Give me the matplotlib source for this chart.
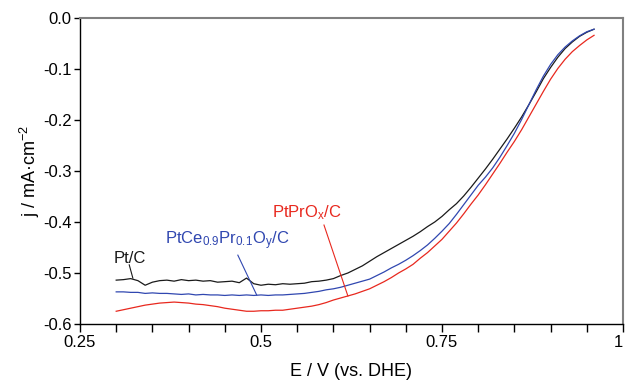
import numpy as np
import matplotlib
matplotlib.use("Agg")
import matplotlib.pyplot as plt

plt.rcParams['font.family'] = ['Liberation Sans', 'DejaVu Sans']
plt.rcParams['mathtext.fontset'] = 'custom'
plt.rcParams['mathtext.rm'] = 'Liberation Sans'
plt.rcParams['mathtext.it'] = 'Liberation Sans'
plt.rcParams['axes.unicode_minus'] = False

E = [0.30, 0.31, 0.32, 0.33, 0.34, 0.35, 0.36, 0.37, 0.38, 0.39,
     0.40, 0.41, 0.42, 0.43, 0.44, 0.45, 0.46, 0.47, 0.48, 0.49,
     0.50, 0.51, 0.52, 0.53, 0.54, 0.55, 0.56, 0.57, 0.58, 0.59,
     0.60, 0.61, 0.62, 0.63, 0.64, 0.65, 0.66, 0.67, 0.68, 0.69,
     0.70, 0.71, 0.72, 0.73, 0.74, 0.75, 0.76, 0.77, 0.78, 0.79,
     0.80, 0.81, 0.82, 0.83, 0.84, 0.85, 0.86, 0.87, 0.88, 0.89,
     0.90, 0.91, 0.92, 0.93, 0.94, 0.95, 0.96]

j_pt = [-0.514, -0.513, -0.511, -0.515, -0.524, -0.518, -0.515, -0.514, -0.516, -0.513,
        -0.515, -0.514, -0.516, -0.515, -0.518, -0.517, -0.516, -0.519, -0.510, -0.521,
        -0.524, -0.522, -0.523, -0.521, -0.522, -0.521, -0.520, -0.517, -0.516, -0.514,
        -0.511, -0.505, -0.500, -0.493, -0.486, -0.477, -0.468, -0.460, -0.452, -0.444,
        -0.436, -0.428, -0.419, -0.409, -0.400, -0.389, -0.376, -0.364, -0.349, -0.332,
        -0.314, -0.296, -0.277, -0.257, -0.237, -0.216, -0.194, -0.170, -0.145, -0.119,
        -0.097, -0.077, -0.060, -0.047, -0.036, -0.028, -0.022]

j_ptcepr = [-0.537, -0.537, -0.538, -0.538, -0.540, -0.539, -0.540, -0.540, -0.541, -0.542,
            -0.541, -0.543, -0.542, -0.543, -0.543, -0.544, -0.543, -0.544, -0.543, -0.544,
            -0.543, -0.544, -0.543, -0.543, -0.542, -0.541, -0.540, -0.538, -0.536, -0.533,
            -0.531, -0.528, -0.524, -0.520, -0.516, -0.512, -0.505, -0.498, -0.490, -0.483,
            -0.475, -0.466, -0.456, -0.445, -0.432, -0.418, -0.403, -0.385, -0.366, -0.347,
            -0.328, -0.312, -0.294, -0.273, -0.250, -0.226, -0.199, -0.170, -0.141, -0.114,
            -0.091, -0.072, -0.057, -0.045, -0.035, -0.027, -0.022]

j_ptpr = [-0.575, -0.572, -0.569, -0.566, -0.563, -0.561, -0.559, -0.558, -0.557, -0.558,
          -0.559, -0.561, -0.562, -0.564, -0.566, -0.569, -0.571, -0.573, -0.575, -0.575,
          -0.574, -0.574, -0.573, -0.573, -0.571, -0.569, -0.567, -0.565, -0.562, -0.558,
          -0.553, -0.549, -0.545, -0.541, -0.536, -0.531, -0.524, -0.517, -0.509, -0.500,
          -0.492, -0.483, -0.471, -0.460, -0.447, -0.434, -0.418, -0.402, -0.384, -0.365,
          -0.347, -0.327, -0.306, -0.285, -0.263, -0.242, -0.219, -0.194, -0.169, -0.144,
          -0.120, -0.099, -0.081, -0.066, -0.054, -0.043, -0.034]

x_ticks = [0.25, 0.5, 0.75, 1.0]
x_ticklabels = ["0.25", "0.5", "0.75", "1"]
y_ticks = [0.0, -0.1, -0.2, -0.3, -0.4, -0.5, -0.6]
y_ticklabels = ["0.0", "-0.1", "-0.2", "-0.3", "-0.4", "-0.5", "-0.6"]

BLACK = "#1a1a1a"
BLUE = "#3047b0"
RED = "#e8281e"

fig = plt.figure(figsize=(6.25, 3.81), dpi=100)
ax = fig.add_axes([0.128, 0.1496, 0.8688, 0.8032])

ax.plot(E, j_pt, color=BLACK, lw=0.9)
ax.plot(E, j_ptcepr, color=BLUE, lw=0.9)
ax.plot(E, j_ptpr, color=RED, lw=0.9)

ax.set_xlim(0.25, 1.0)
ax.set_ylim(-0.6, 0.0)
ax.set_xticks(x_ticks)
ax.set_xticklabels(x_ticklabels)
ax.set_xticks(np.arange(0.30, 0.99, 0.05), minor=True)
ax.set_yticks(y_ticks)
ax.set_yticklabels(y_ticklabels)

ax.tick_params(axis='x', which='both', direction='out', length=6, width=1, labelsize=12, pad=2)
ax.tick_params(axis='y', which='both', direction='out', length=4, width=1, labelsize=12, pad=2)
ax.get_xticklabels()[-1].set_horizontalalignment('right')

for s in ['left', 'bottom']:
    ax.spines[s].set_color('black')
    ax.spines[s].set_linewidth(1.0)
for s in ['top', 'right']:
    ax.spines[s].set_color('#808080')
    ax.spines[s].set_linewidth(1.5)

ax.set_xlabel("E / V (vs. DHE)", fontsize=13, labelpad=9)
ax.set_ylabel(r"j / mA·cm$^{\mathregular{-2}}$", fontsize=13, labelpad=1)

# annotations
ax.text(0.297, -0.471, "Pt/C", color=BLACK, fontsize=12, va='center', ha='left')
ax.plot([0.318, 0.323], [-0.484, -0.51], color=BLACK, lw=0.8)

ax.text(0.367, -0.437, r"PtCe$_{\mathregular{0.9}}$Pr$_{\mathregular{0.1}}$O$_{\mathregular{y}}$/C",
        color=BLUE, fontsize=12, va='center', ha='left')
ax.plot([0.468, 0.494], [-0.465, -0.543], color=BLUE, lw=0.8)

ax.text(0.515, -0.382, r"PtPrO$_{\mathregular{x}}$/C", color=RED, fontsize=12, va='center', ha='left')
ax.plot([0.587, 0.620], [-0.406, -0.545], color=RED, lw=0.8)

fig.savefig("out.png", dpi=100)
